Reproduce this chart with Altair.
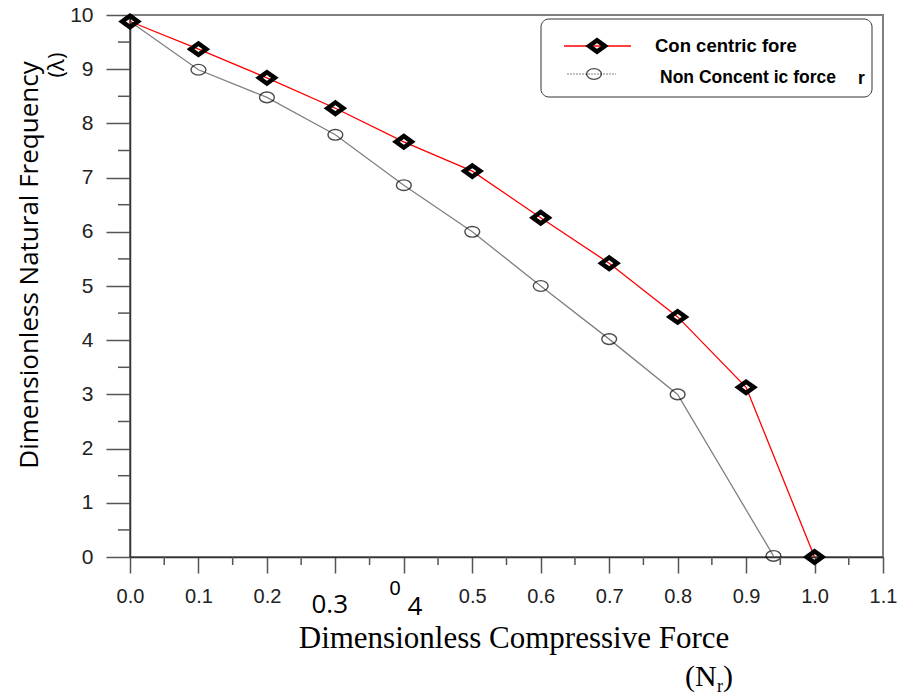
import altair as alt
import pandas as pd

# ---- data ----
x_con = [0.0, 0.1, 0.2, 0.3, 0.4, 0.5, 0.6, 0.7, 0.8, 0.9, 1.0]
y_con = [9.88, 9.37, 8.84, 8.28, 7.66, 7.12, 6.26, 5.42, 4.43, 3.13, 0.0]
x_non = [0.0, 0.1, 0.2, 0.3, 0.4, 0.5, 0.6, 0.7, 0.8, 0.94]
y_non = [9.88, 8.99, 8.48, 7.79, 6.86, 6.0, 5.0, 4.02, 3.0, 0.02]

x_major = [round(i * 0.1, 1) for i in range(12)]
x_minor = [round(0.05 + i * 0.1, 2) for i in range(11)]
y_major = list(range(11))
y_minor = [i + 0.5 for i in range(10)]

legend_labels = ["Con centric fore", "Non Concent ic force", "r"]
x_title = "Dimensionless Compressive Force"
y_title = "Dimensionless Natural Frequency"

con = pd.DataFrame({"x": x_con, "y": y_con})
non = pd.DataFrame({"x": x_non, "y": y_non})

W, H = 753, 542
xs = alt.Scale(domain=[0, 1.1], nice=False, zero=False)
ys = alt.Scale(domain=[0, 10], nice=False)

DIAMOND = "M-1,0L0,-0.72L1,0L0,0.72Z"
ELLIPSE = "M-1,0A1,0.72 0 1,0 1,0A1,0.72 0 1,0 -1,0Z"

xaxis = alt.Axis(values=x_major, format=".1f", tickSize=16, labelPadding=13,
                 labelFontSize=20, labelFont="Liberation Sans", labelColor="#222",
                 labelFlush=False, labelOverlap=False,
                 labelExpr="(abs(datum.value-0.3)<0.01 || abs(datum.value-0.4)<0.01) ? '' : datum.label",
                 domainColor="#333", domainWidth=1.5, tickColor="#555", tickWidth=1.5,
                 grid=False, title=None)
yaxis = alt.Axis(values=y_major, tickSize=24, labelPadding=13,
                 labelFontSize=21, labelFont="Liberation Sans", labelColor="#222",
                 labelFlush=False, labelOverlap=False,
                 domainColor="#333", domainWidth=1.5, tickColor="#555", tickWidth=1.5,
                 grid=False, title=None)

line_non = alt.Chart(non).mark_line(color="#808080", strokeWidth=1.3).encode(
    x=alt.X("x:Q", scale=xs, axis=xaxis), y=alt.Y("y:Q", scale=ys, axis=yaxis))
pts_non = alt.Chart(non).mark_point(shape=ELLIPSE, size=220, color="black", strokeWidth=1.4,
                                    filled=False).encode(
    x=alt.X("x:Q", scale=xs), y=alt.Y("y:Q", scale=ys))
line_con = alt.Chart(con).mark_line(color="#ff0000", strokeWidth=1.3).encode(
    x=alt.X("x:Q", scale=xs), y=alt.Y("y:Q", scale=ys))
pts_con = alt.Chart(con).mark_point(shape=DIAMOND, size=250, color="black", strokeWidth=4.5,
                                    filled=False, opacity=1).encode(
    x=alt.X("x:Q", scale=xs), y=alt.Y("y:Q", scale=ys))

# minor ticks
xm = alt.Chart(pd.DataFrame({"x": x_minor})).mark_rule(color="#555", strokeWidth=1.5).encode(
    x=alt.X("x:Q", scale=xs), y=alt.value(H), y2=alt.value(H + 8))
ym = alt.Chart(pd.DataFrame({"y": y_minor})).mark_rule(color="#555", strokeWidth=1.5).encode(
    y=alt.Y("y:Q", scale=ys), x=alt.value(-12), x2=alt.value(0))

one = alt.Data(values=[{"a": 1}])

def txt(text, x, y, size, font="Liberation Sans", weight="normal", align="left",
        baseline="alphabetic", angle=0, color="black"):
    kw = dict(text=text, fontSize=size, font=font, fontWeight=weight, align=align,
              baseline=baseline, color=color)
    if angle:
        kw["angle"] = angle
    return alt.Chart(one).mark_text(**kw).encode(x=alt.value(x), y=alt.value(y))

# legend
leg_box = alt.Chart(one).mark_rect(fill="white", stroke="#333", strokeWidth=1,
                                   cornerRadius=8).encode(
    x=alt.value(411), x2=alt.value(742), y=alt.value(4), y2=alt.value(82))
leg_l1 = alt.Chart(one).mark_rule(color="#ff0000", strokeWidth=1.3).encode(
    x=alt.value(434), x2=alt.value(501), y=alt.value(31))
leg_p1 = alt.Chart(one).mark_point(shape=DIAMOND, size=250, color="black", strokeWidth=4.5,
                                   filled=False, opacity=1).encode(x=alt.value(467), y=alt.value(31))
leg_l2 = alt.Chart(one).mark_rule(color="#808080", strokeWidth=1, strokeDash=[2, 1]).encode(
    x=alt.value(437), x2=alt.value(486), y=alt.value(59))
leg_p2 = alt.Chart(one).mark_point(shape=ELLIPSE, size=220, color="black", strokeWidth=1.4,
                                   filled=False).encode(x=alt.value(464), y=alt.value(59))
leg_t1 = txt(legend_labels[0], 525, 37, 18.5, weight="bold")
leg_t2 = txt(legend_labels[1], 530, 68, 17.5, weight="bold")
leg_t3 = txt(legend_labels[2], 728, 69, 17.5, weight="bold")

# titles & odd labels
t_y = txt(y_title, -100, 250, 26, font="Open Sans", align="center", baseline="middle", angle=270)
t_lam = txt("(λ)", -73, 50, 22, font="Open Sans", align="center", baseline="middle", angle=270)
t_x = txt(x_title, 384, 633, 31, font="Liberation Serif", align="center")
t_n1 = txt("(N", 555, 671, 30, font="Liberation Serif")
t_n2 = txt("r", 587, 677, 18, font="Liberation Serif")
t_n3 = txt(")", 593, 671, 30, font="Liberation Serif")
t_03 = txt("0.3", 218, 598, 26, font="Open Sans", align="right")
t_04a = txt("0", 265, 580, 20, align="center")
t_04b = txt("4", 285, 600, 26, font="Open Sans", align="center")

chart = alt.layer(
    line_non, pts_non, line_con, pts_con, xm, ym,
    leg_box, leg_l1, leg_p1, leg_l2, leg_p2, leg_t1, leg_t2, leg_t3,
    t_y, t_lam, t_x, t_n1, t_n2, t_n3, t_03, t_04a, t_04b,
).properties(
    width=W, height=H,
    padding={"left": 130, "top": 15, "right": 14, "bottom": 138},
    autosize=alt.AutoSizeParams(type="none"),
    background="white",
).configure_view(stroke="#808080", strokeWidth=2)

chart.save("out.html", embed_options={"renderer": "svg", "actions": False})
